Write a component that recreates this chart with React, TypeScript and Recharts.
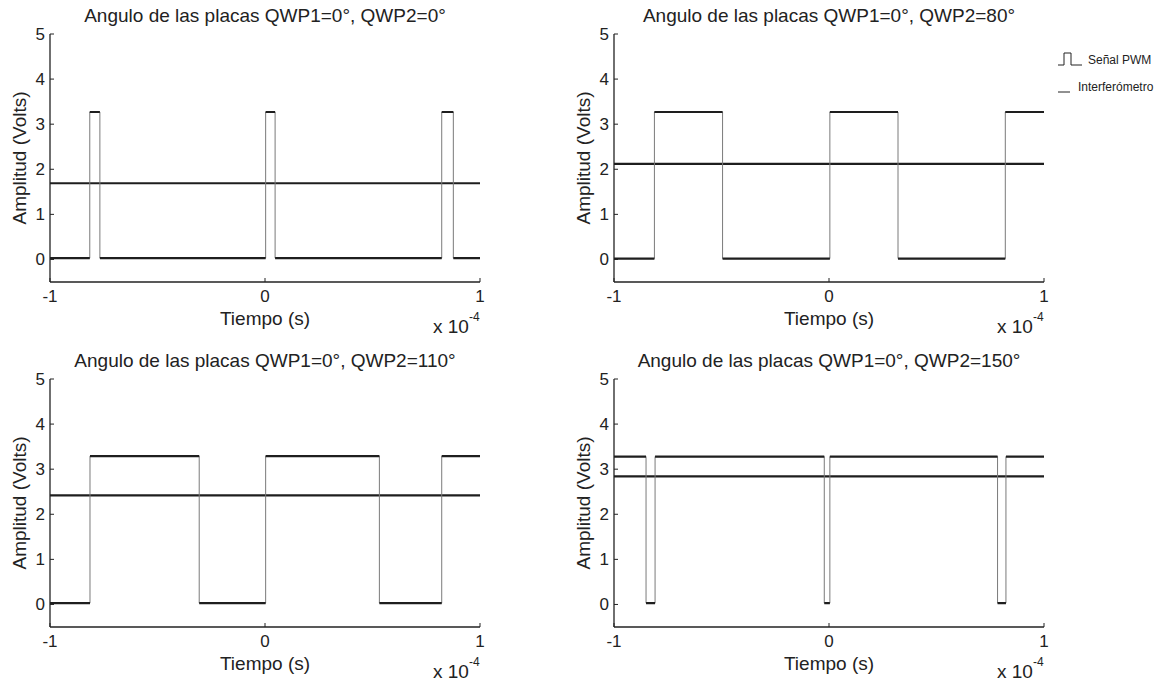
import React from 'react';
import { LineChart, Line, XAxis, YAxis } from 'recharts';

const FONT = '"Liberation Sans", Arial, Helvetica, sans-serif';
const INK = '#222';

// one entry per panel, in reading order
const titles = [
  'Angulo de las placas QWP1=0°, QWP2=0°',
  'Angulo de las placas QWP1=0°, QWP2=80°',
  'Angulo de las placas QWP1=0°, QWP2=110°',
  'Angulo de las placas QWP1=0°, QWP2=150°',
];
// PWM transition times (x 1e-4 s) and levels (V)
const pwmStartsHigh = [false, false, false, true];
const pwmEdges = [
  [-0.815, -0.768, 0.003, 0.047, 0.822, 0.876],
  [-0.812, -0.495, 0.004, 0.321, 0.82],
  [-0.814, -0.306, 0.003, 0.532, 0.822],
  [-0.851, -0.809, -0.022, 0.004, 0.784, 0.823],
];
const pwmLow = [0.03, 0.02, 0.03, 0.03];
const pwmHigh = [3.27, 3.27, 3.29, 3.28];
// interferometer level (V)
const interfLevel = [1.69, 2.12, 2.42, 2.84];

const xTicks = [-1, 0, 1];
const yTicks = [0, 1, 2, 3, 4, 5];

const panelPos = [
  { left: 0, top: 0 },
  { left: 564, top: 0 },
  { left: 0, top: 345 },
  { left: 564, top: 345 },
];

type Pt = { t: number; v: number | null };

// step trace; withGaps leaves the vertical edges out so only the levels are drawn
const pwmTrace = (i: number, withGaps: boolean): Pt[] => {
  let high = pwmStartsHigh[i];
  const lvl = () => (high ? pwmHigh[i] : pwmLow[i]);
  const pts: Pt[] = [{ t: -1, v: lvl() }];
  pwmEdges[i].forEach((e) => {
    pts.push({ t: e, v: lvl() });
    if (withGaps) pts.push({ t: e, v: null });
    high = !high;
    pts.push({ t: e, v: lvl() });
  });
  pts.push({ t: 1, v: lvl() });
  return pts;
};

const Panel: React.FC<{ i: number }> = ({ i }) => {
  const interf = [
    { t: -1, v: interfLevel[i] },
    { t: 1, v: interfLevel[i] },
  ];
  const tickStyle = { fontSize: 17, fill: INK, fontFamily: FONT };
  const axisLine = { stroke: INK, strokeWidth: 1.3 };
  return (
    <div style={{ position: 'absolute', left: panelPos[i].left, top: panelPos[i].top, width: 500, height: 340 }}>
      <LineChart width={500} height={340} margin={{ top: 34, right: 20, bottom: 28, left: 20 }}>
        <XAxis
          xAxisId="b"
          type="number"
          dataKey="t"
          domain={[-1, 1]}
          ticks={xTicks}
          allowDataOverflow
          height={30}
          tickSize={-4}
          tickMargin={12}
          axisLine={axisLine}
          tickLine={{ stroke: INK }}
          tick={tickStyle}
        />
        <XAxis
          xAxisId="t"
          orientation="top"
          type="number"
          dataKey="t"
          domain={[-1, 1]}
          ticks={xTicks}
          height={0}
          tickSize={-4}
          tickFormatter={() => ''}
          axisLine={axisLine}
          tickLine={{ stroke: INK }}
        />
        <YAxis
          yAxisId="l"
          type="number"
          domain={[-0.5, 5]}
          ticks={yTicks}
          allowDataOverflow
          width={30}
          tickSize={-4}
          tickMargin={9}
          axisLine={axisLine}
          tickLine={{ stroke: INK }}
          tick={tickStyle}
        />
        <YAxis
          yAxisId="r"
          orientation="right"
          type="number"
          domain={[-0.5, 5]}
          ticks={yTicks}
          width={0}
          tickSize={-4}
          tickFormatter={() => ''}
          axisLine={axisLine}
          tickLine={{ stroke: INK }}
        />
        <Line
          xAxisId="b"
          yAxisId="l"
          data={interf}
          dataKey="v"
          type="linear"
          stroke="#1e1e1e"
          strokeWidth={2.2}
          dot={false}
          isAnimationActive={false}
        />
        <Line
          xAxisId="b"
          yAxisId="l"
          data={pwmTrace(i, false)}
          dataKey="v"
          type="linear"
          stroke="#7a7a7a"
          strokeWidth={1}
          dot={false}
          isAnimationActive={false}
        />
        <Line
          xAxisId="b"
          yAxisId="l"
          data={pwmTrace(i, true)}
          dataKey="v"
          type="linear"
          stroke="#1e1e1e"
          strokeWidth={2.2}
          dot={false}
          connectNulls={false}
          isAnimationActive={false}
        />
      </LineChart>
      <svg width={500} height={340} style={{ position: 'absolute', left: 0, top: 0, pointerEvents: 'none' }}>
        <g fontFamily={FONT} fill={INK}>
          <text x={265} y={22} fontSize={19} textAnchor="middle">{titles[i]}</text>
          <text x={265} y={325} fontSize={19} textAnchor="middle">Tiempo (s)</text>
          <text x={433} y={333} fontSize={19}>
            x 10<tspan dy={-12} fontSize={12}>-4</tspan>
          </text>
          <text x={26} y={158} fontSize={19} textAnchor="middle" transform="rotate(-90 26 158)">
            Amplitud (Volts)
          </text>
        </g>
      </svg>
    </div>
  );
};

const Legend: React.FC = () => (
  <svg width={110} height={60} style={{ position: 'absolute', left: 1053, top: 45 }}>
    <g fontFamily={FONT} fill={INK} fontSize={12}>
      <path d="M5 20 H11 V8 H18 V20 H29" fill="none" stroke={INK} strokeWidth={1} />
      <text x={35} y={19}>Señal PWM</text>
      <path d="M5 47 H17" fill="none" stroke={INK} strokeWidth={1} />
      <text x={25} y={45.5}>Interferómetro</text>
    </g>
  </svg>
);

export default function App() {
  return (
    <div style={{ position: 'absolute', left: 0, top: 0, width: 1163, height: 681, background: '#fff' }}>
      {titles.map((_, i) => (
        <Panel key={i} i={i} />
      ))}
      <Legend />
    </div>
  );
}
